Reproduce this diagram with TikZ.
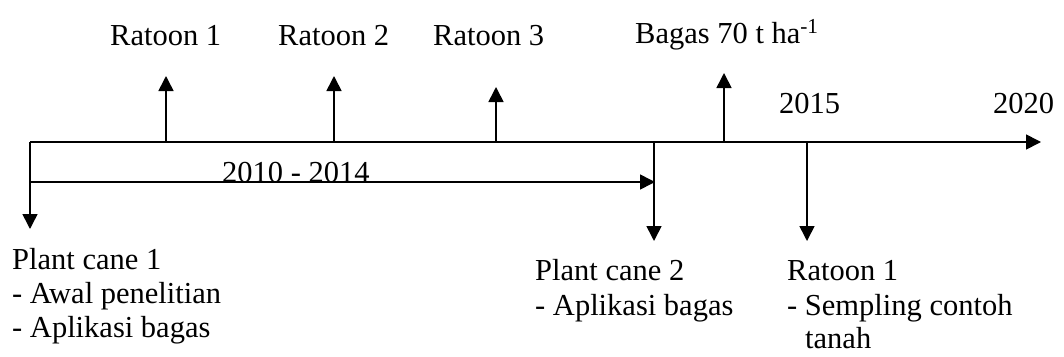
\documentclass[tikz,border=0pt]{standalone}
\usepackage{fontspec}
\setmainfont{Liberation Serif}
\usetikzlibrary{arrows.meta}
\begin{document}
\begin{tikzpicture}[x=1pt,y=-1pt,
  lbl/.style={anchor=base west,inner sep=0pt,font=\fontsize{30.5}{34}\selectfont},
  ln/.style={line width=1.6pt},
  arr/.style={line width=1.6pt,-{Triangle[length=15pt,width=15pt]}}]
\useasboundingbox (0,0) rectangle (1064,356);
% timeline coordinates
\coordinate (L0) at (30,142);
\coordinate (Lend) at (1041,142);
\coordinate (B0) at (30,182);
\coordinate (Bend) at (655,182);
\coordinate (D0) at (30,229);
\coordinate (u1a) at (166,142); \coordinate (u1b) at (166,76);
\coordinate (u2a) at (334,142); \coordinate (u2b) at (334,76);
\coordinate (u3a) at (496,142); \coordinate (u3b) at (496,87);
\coordinate (u4a) at (724,142); \coordinate (u4b) at (724,73);
\coordinate (d1a) at (654,142); \coordinate (d1b) at (654,241);
\coordinate (d2a) at (807,142); \coordinate (d2b) at (807,241);
% lines
\draw[arr] (L0) -- (Lend);
\draw[arr] (L0) -- (D0);
\draw[arr] (B0) -- (Bend);
\draw[arr] (u1a) -- (u1b);
\draw[arr] (u2a) -- (u2b);
\draw[arr] (u3a) -- (u3b);
\draw[arr] (u4a) -- (u4b);
\draw[arr] (d1a) -- (d1b);
\draw[arr] (d2a) -- (d2b);
% labels
\node[lbl] (r1) at (110,45) {Ratoon 1};
\node[lbl] (r2) at (278,45) {Ratoon 2};
\node[lbl] (r3) at (433,45) {Ratoon 3};
\node[lbl] (bg) at (635,43) {Bagas 70 t ha\textsuperscript{-1}};
\node[lbl] (y15) at (779,113) {2015};
\node[lbl] (y20) at (993,113) {2020};
\node[lbl] (yr) at (222,182) {2010 - 2014};
\node[lbl] (pc1) at (12,269) {Plant cane 1};
\node[lbl] (pc1a) at (12,303) {- Awal penelitian};
\node[lbl] (pc1b) at (12,337) {- Aplikasi bagas};
\node[lbl] (pc2) at (535,280) {Plant cane 2};
\node[lbl] (pc2a) at (535,315) {- Aplikasi bagas};
\node[lbl] (rt1) at (787,280) {Ratoon 1};
\node[lbl] (rt1a) at (787,315) {- Sempling contoh};
\node[lbl] (rt1b) at (805,348) {tanah};
\end{tikzpicture}
\end{document}
